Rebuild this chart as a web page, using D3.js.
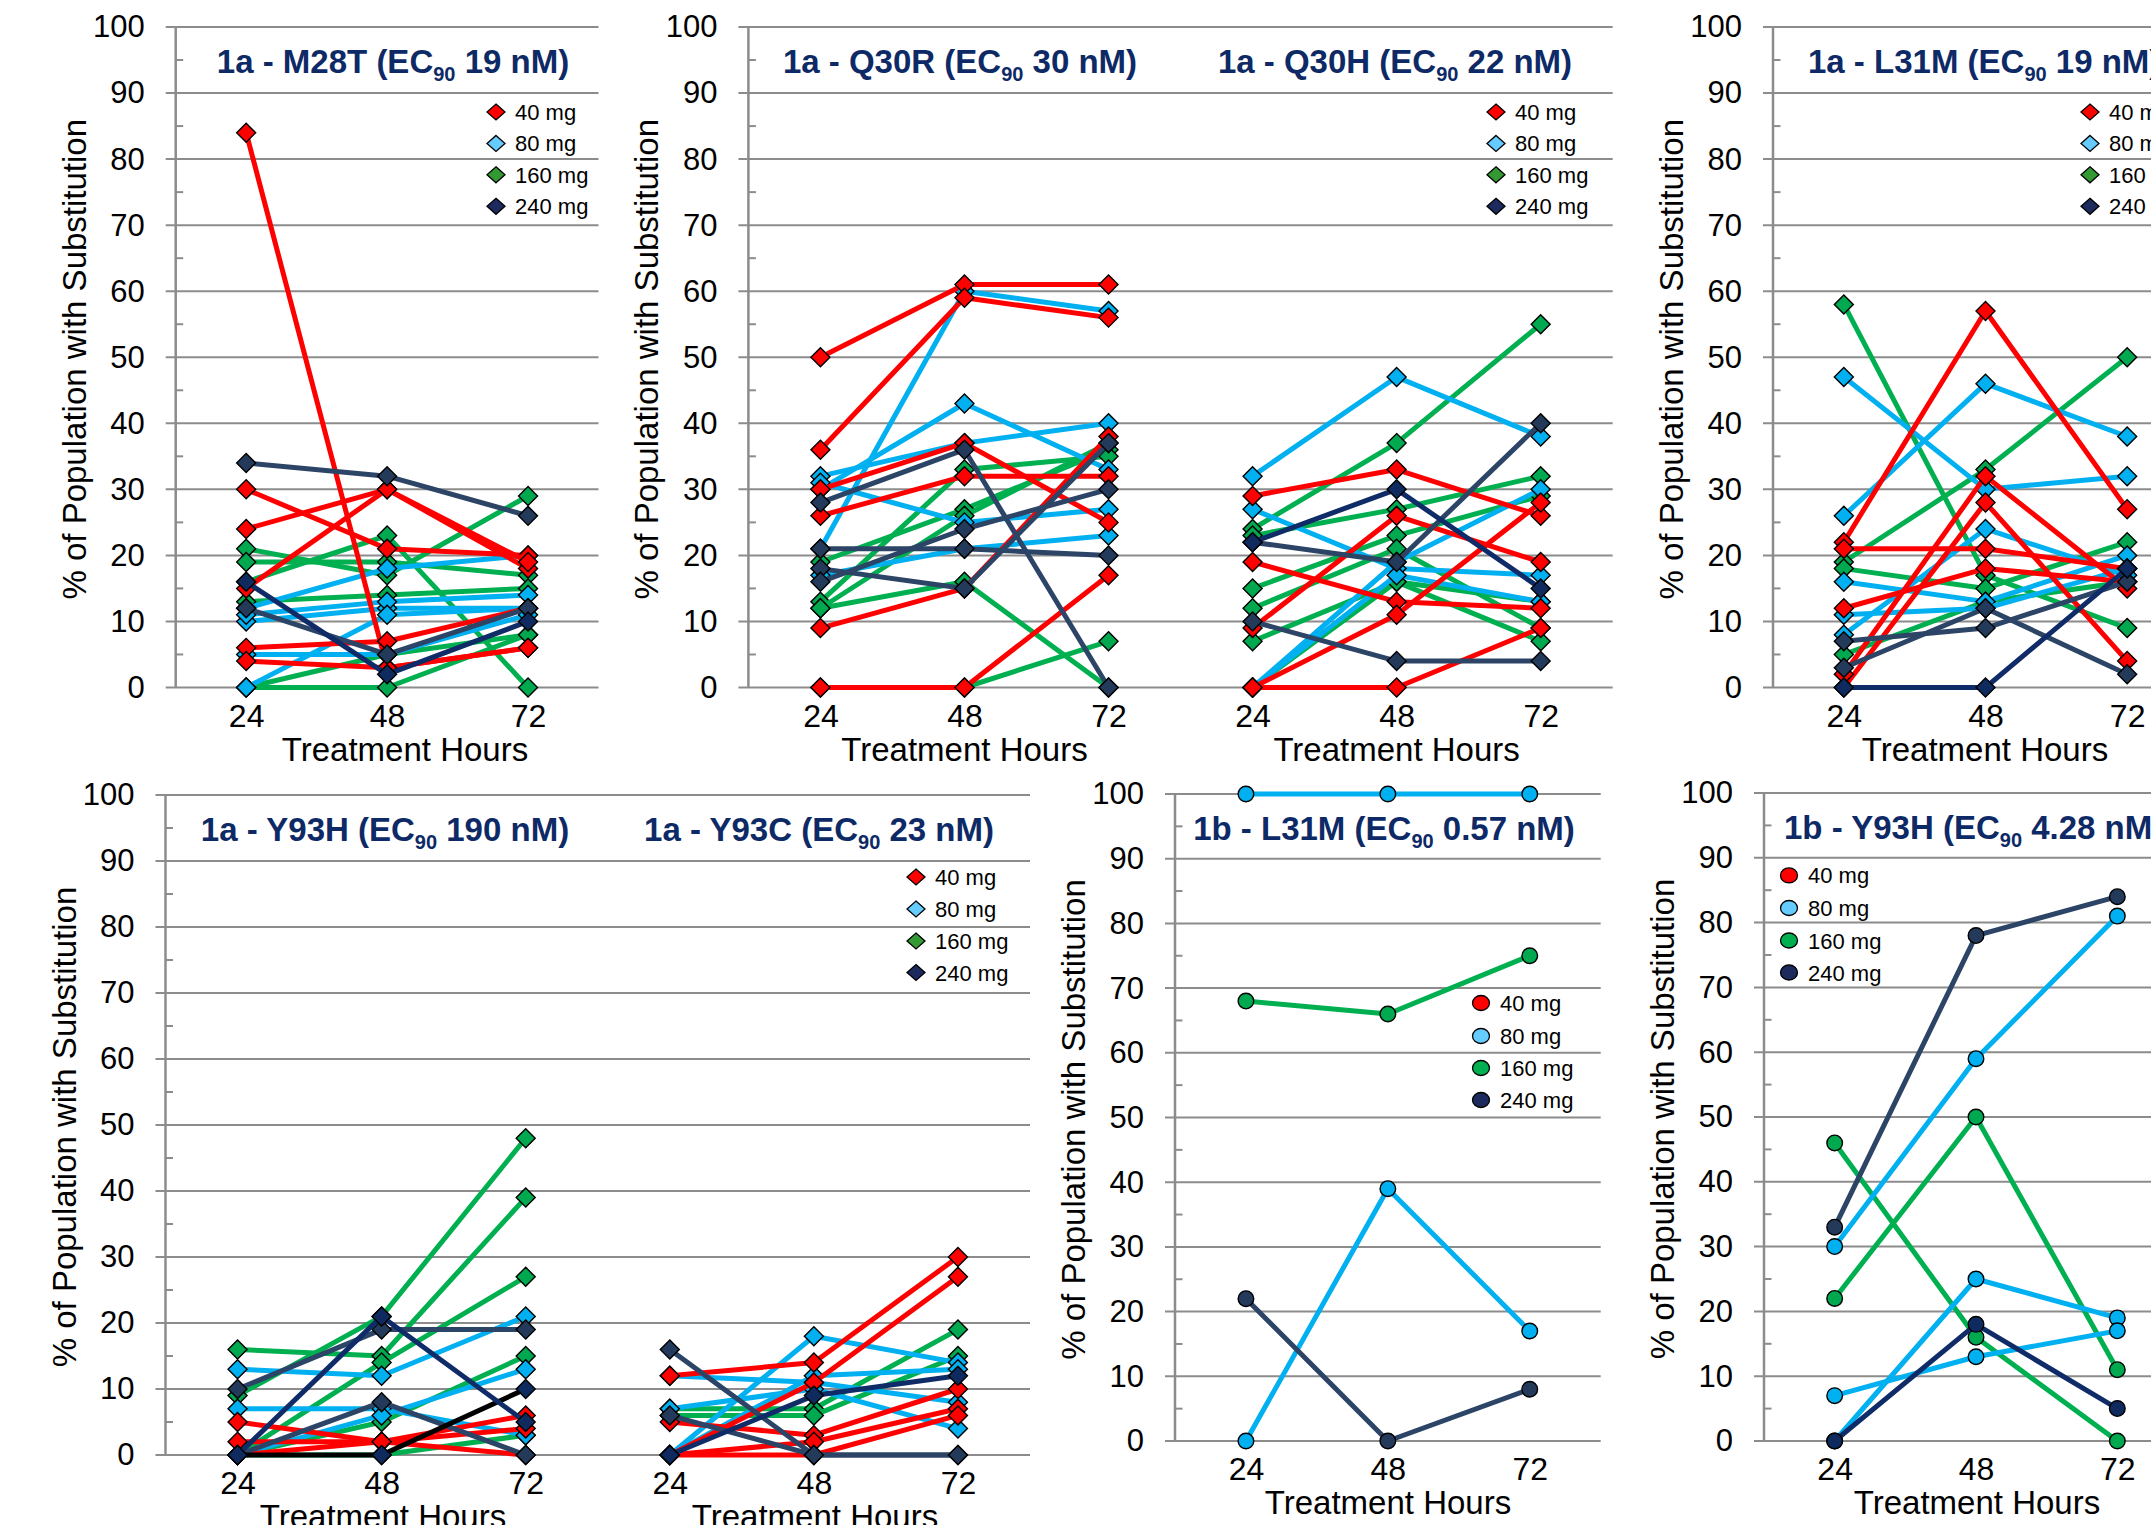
<!DOCTYPE html>
<html>
<head>
<meta charset="utf-8">
<script src="https://cdn.jsdelivr.net/npm/d3@7"></script>
<style>
  body { margin: 0; background: #fff; }
  svg { display: block; }
  text { font-family: "Liberation Sans", Arial, sans-serif; }
</style>
</head>
<body>
<svg id="chart" width="2151" height="1525"></svg>
<script>
// ---- data ----
var hours = ["24", "48", "72"];
var yTicks = [0, 10, 20, 30, 40, 50, 60, 70, 80, 90, 100];
var doseLabels = ["40 mg", "80 mg", "160 mg", "240 mg"];

// each row: dose group, % at 24h, 48h, 72h
var m28t = [
  ["160", 21, 17, 29], ["160", 19, 19, 17], ["160", 16, 23, 0], ["160", 13, 14, 15],
  ["160", 0, 0, 8], ["160", 0, 5, 8],
  ["80", 12, 18, 20], ["80", 10, 12, 12], ["80", 11, 13, 14], ["80", 5, 5, 11], ["80", 0, 11, 12],
  ["40", 84, 3, 6], ["40", 30, 21, 20], ["40", 24, 30, 18], ["40", 15, 30, 19],
  ["40", 6, 7, 12], ["40", 4, 3, 6],
  ["240", 34, 32, 26], ["240", 12, 5, 12], ["240n", 16, 2, 10]
];
var q30r = [
  ["160", 19, 27, 36], ["160", 13, 33, 35], ["160", 12, 26, 37], ["160", 12, 16, 0], ["160", 0, 0, 7],
  ["80", 21, 60, 57], ["80", 32, 37, 40], ["80", 30, 43, 33], ["80", 31, 25, 27], ["80", 17, 21, 23],
  ["40", 50, 61, 61], ["40", 36, 59, 56], ["40", 30, 37, 25], ["40", 26, 32, 32],
  ["40", 9, 15, 38], ["40", 0, 0, 17],
  ["240", 28, 36, 0], ["240", 21, 21, 20], ["240", 18, 15, 37], ["240", 16, 24, 30]
];
var q30h = [
  ["160", 24, 37, 55], ["160", 23, 27, 32], ["160", 15, 23, 29], ["160", 12, 21, 9],
  ["160", 7, 16, 7], ["160", 0, 16, 13],
  ["80", 32, 47, 38], ["80", 27, 18, 17], ["80", 0, 19, 30], ["80", 0, 17, 13],
  ["40", 29, 33, 26], ["40", 19, 13, 12], ["40", 9, 26, 19], ["40", 0, 11, 28], ["40", 0, 0, 9],
  ["240", 22, 19, 40], ["240", 10, 4, 4], ["240n", 22, 30, 15]
];
var l31m1a = [
  ["160", 58, 17, 9], ["160", 19, 33, 50], ["160", 18, 15, 22], ["160", 5, 13, 16],
  ["80", 47, 30, 32], ["80", 26, 46, 38], ["80", 16, 13, 20], ["80", 11, 12, 18], ["80", 8, 24, 17],
  ["40", 22, 57, 27], ["40", 21, 21, 18], ["40", 12, 18, 16], ["40", 0, 28, 4], ["40", 2, 32, 15],
  ["240", 7, 9, 16], ["240", 3, 12, 2], ["240n", 0, 0, 18]
];
var y93h1a = [
  ["160", 16, 15, 39], ["160", 9, 21, 48], ["160", 0, 14, 27], ["160", 0, 5, 15], ["160", 0, 0, 3],
  ["80", 13, 12, 21], ["80", 7, 7, 3], ["80", 0, 6, 13],
  ["40", 5, 2, 4], ["40", 2, 2, 6], ["40", 0, 2, 0],
  ["240", 10, 19, 19], ["240", 0, 8, 0], ["blk", 0, 0, 10], ["240n", 0, 21, 5]
];
var y93c1a = [
  ["160", 7, 7, 19], ["160", 6, 6, 15],
  ["80", 12, 11, 8], ["80", 0, 18, 14], ["80", 7, 10, 4], ["80", 0, 12, 13],
  ["40", 12, 14, 30], ["40", 0, 11, 27], ["40", 5, 3, 10], ["40", 0, 2, 7], ["40", 0, 0, 6],
  ["240", 16, 0, 0], ["240", 6, 0, 0], ["240n", 0, 9, 12]
];
var l31m1b = [
  ["80", 100, 100, 100], ["160", 68, 66, 75], ["80", 0, 39, 17], ["240", 22, 0, 8]
];
var y93h1b = [
  ["160", 22, 50, 11], ["160", 46, 16, 0],
  ["80", 30, 59, 81], ["80", 0, 25, 19], ["80", 7, 13, 17],
  ["240", 33, 78, 84], ["240n", 0, 18, 5]
];

// ---- styles ----
var lineColor = { "40": "#ff0000", "80": "#00b0f0", "160": "#00b050", "240": "#2c4466", "240n": "#102c68", "blk": "#000000" };
var markColor = { "40": "#ff0000", "80": "#00b0f0", "160": "#00a84f", "240": "#243a5a", "240n": "#0f2a5e", "blk": "#0f2a5e" };
var legendDiamond = ["#ff0000", "#66ccff", "#339933", "#1c2a5e"];
var legendCircle = ["#ff0000", "#66ccff", "#00b050", "#1c2a5e"];
var titleColor = "#0e2a66", gridColor = "#8c8c8c";

var svg = d3.select("#chart");
svg.append("rect").attr("width", 2151).attr("height", 1525).attr("fill", "#fff");

var diamond = "M0,-9.5L9.5,0L0,9.5L-9.5,0Z";

function panel(p) {
  var g = svg.append("g");
  var cats = [];
  p.groups.forEach(function (gr, gi) { hours.forEach(function (h) { cats.push(gi + "_" + h); }); });
  var x = d3.scalePoint().domain(cats).range([p.left, p.right]).padding(0.5);
  var y = d3.scaleLinear().domain([0, 100]).range([p.bottom, p.top]);

  // gridlines + minor ticks + axis line
  g.selectAll(".grid").data(yTicks).enter().append("line")
    .attr("x1", p.left - 10).attr("x2", p.right)
    .attr("y1", function (d) { return y(d); }).attr("y2", function (d) { return y(d); })
    .attr("stroke", gridColor).attr("stroke-width", 2);
  g.selectAll(".minor").data(d3.range(5, 100, 10)).enter().append("line")
    .attr("x1", p.left).attr("x2", p.left + 7.5)
    .attr("y1", function (d) { return y(d); }).attr("y2", function (d) { return y(d); })
    .attr("stroke", gridColor).attr("stroke-width", 2);
  g.append("line").attr("x1", p.left).attr("x2", p.left).attr("y1", p.top).attr("y2", p.bottom)
    .attr("stroke", gridColor).attr("stroke-width", 2.5);

  // y axis labels
  var ya = g.append("g").attr("transform", "translate(" + p.left + ",0)")
    .call(d3.axisLeft(y).tickValues(yTicks).tickSize(0).tickPadding(31));
  ya.select(".domain").remove();
  ya.selectAll("text").style("font-size", "31px").attr("fill", "#000")
    .style("font-family", '"Liberation Sans", Arial, sans-serif');

  // x axis labels
  var xa = g.append("g").attr("transform", "translate(0," + p.bottom + ")")
    .call(d3.axisBottom(x).tickSize(0).tickFormat(function (d) { return d.split("_")[1]; }));
  xa.select(".domain").remove();
  xa.selectAll("text").attr("y", 39).attr("dy", null).style("font-size", "32px").attr("fill", "#000")
    .style("font-family", '"Liberation Sans", Arial, sans-serif');

  // y title
  g.append("text")
    .attr("transform", "translate(" + (p.left - 90) + "," + ((p.top + p.bottom) / 2 + 2) + ") rotate(-90)")
    .attr("text-anchor", "middle").style("font-size", "33px")
    .text("% of Population with Substitution");

  p.groups.forEach(function (gr, gi) {
    // x title
    g.append("text").attr("x", gr.xTitleX).attr("y", p.bottom + 73)
      .attr("text-anchor", "middle").style("font-size", "33px").text("Treatment Hours");

    // chart title
    var t = g.append("text").attr("x", gr.titleX).attr("y", p.top + 46)
      .attr("text-anchor", gr.titleAnchor || "middle")
      .style("font-size", "33px").style("font-weight", "bold").attr("fill", titleColor);
    t.append("tspan").text(gr.title[0]);
    t.append("tspan").attr("dy", 8).style("font-size", "20px").text("90");
    t.append("tspan").attr("dy", -8).text(gr.title[1]);

    // series
    var line = d3.line()
      .x(function (d, i) { return x(gi + "_" + hours[i]); })
      .y(function (d) { return y(d); });
    gr.rows.forEach(function (r) {
      var vals = r.slice(1);
      g.append("path").datum(vals).attr("d", line)
        .attr("fill", "none").attr("stroke", lineColor[r[0]]).attr("stroke-width", 5)
        .attr("stroke-linejoin", "round");
      var m = g.selectAll(null).data(vals).enter();
      if (p.marker === "circle") {
        m.append("circle")
          .attr("cx", function (d, i) { return x(gi + "_" + hours[i]); })
          .attr("cy", function (d) { return y(d); })
          .attr("r", 7.8).attr("fill", markColor[r[0]])
          .attr("stroke", "#000").attr("stroke-width", 1.4);
      } else {
        m.append("path").attr("d", diamond)
          .attr("transform", function (d, i) { return "translate(" + x(gi + "_" + hours[i]) + "," + y(d) + ")"; })
          .attr("fill", markColor[r[0]]).attr("stroke", "#000").attr("stroke-width", 1.4);
      }
    });
  });

  // legend
  var lg = g.append("g");
  doseLabels.forEach(function (lab, i) {
    var ly = p.legend.ys[i];
    if (p.marker === "circle") {
      lg.append("ellipse").attr("cx", p.legend.x).attr("cy", ly).attr("rx", 8.5).attr("ry", 7.5)
        .attr("fill", legendCircle[i]).attr("stroke", "#000").attr("stroke-width", 1.3);
    } else {
      lg.append("path").attr("d", "M0,-8L9,0L0,8L-9,0Z")
        .attr("transform", "translate(" + p.legend.x + "," + ly + ")")
        .attr("fill", legendDiamond[i]).attr("stroke", "#000").attr("stroke-width", 1.3);
    }
    lg.append("text").attr("x", p.legend.x + 19).attr("y", ly + 8)
      .style("font-size", "22px").text(lab);
  });
}

var topRows = [112, 143.4, 174.8, 206.3];

panel({
  left: 175.7, right: 598.5, top: 27, bottom: 687.5, marker: "diamond",
  groups: [{ rows: m28t, title: ["1a - M28T (EC", " 19 nM)"], titleX: 393, xTitleX: 405 }],
  legend: { x: 496, ys: topRows }
});
panel({
  left: 748.4, right: 1612.7, top: 27, bottom: 687.5, marker: "diamond",
  groups: [
    { rows: q30r, title: ["1a - Q30R (EC", " 30 nM)"], titleX: 960, xTitleX: 964.5 },
    { rows: q30h, title: ["1a - Q30H (EC", " 22 nM)"], titleX: 1395, xTitleX: 1396.6 }
  ],
  legend: { x: 1496, ys: topRows }
});
panel({
  left: 1773, right: 2198, top: 27, bottom: 687.5, marker: "diamond",
  groups: [{ rows: l31m1a, title: ["1a - L31M (EC", " 19 nM)"], titleX: 1808, titleAnchor: "start", xTitleX: 1985 }],
  legend: { x: 2090, ys: topRows }
});
panel({
  left: 165.5, right: 1030, top: 795, bottom: 1455, marker: "diamond",
  groups: [
    { rows: y93h1a, title: ["1a - Y93H (EC", " 190 nM)"], titleX: 385, xTitleX: 383 },
    { rows: y93c1a, title: ["1a - Y93C (EC", " 23 nM)"], titleX: 819, xTitleX: 815 }
  ],
  legend: { x: 916, ys: [877, 909, 941, 972.5] }
});
panel({
  left: 1175, right: 1600.7, top: 794, bottom: 1441, marker: "circle",
  groups: [{ rows: l31m1b, title: ["1b - L31M (EC", " 0.57 nM)"], titleX: 1384, xTitleX: 1388 }],
  legend: { x: 1481, ys: [1003, 1036, 1068, 1100] }
});
panel({
  left: 1764, right: 2188, top: 793, bottom: 1441, marker: "circle",
  groups: [{ rows: y93h1b, title: ["1b - Y93H (EC", " 4.28 nM)"], titleX: 1784, titleAnchor: "start", xTitleX: 1977 }],
  legend: { x: 1789, ys: [875.4, 908, 940.5, 972.5] }
});
</script>
</body>
</html>
